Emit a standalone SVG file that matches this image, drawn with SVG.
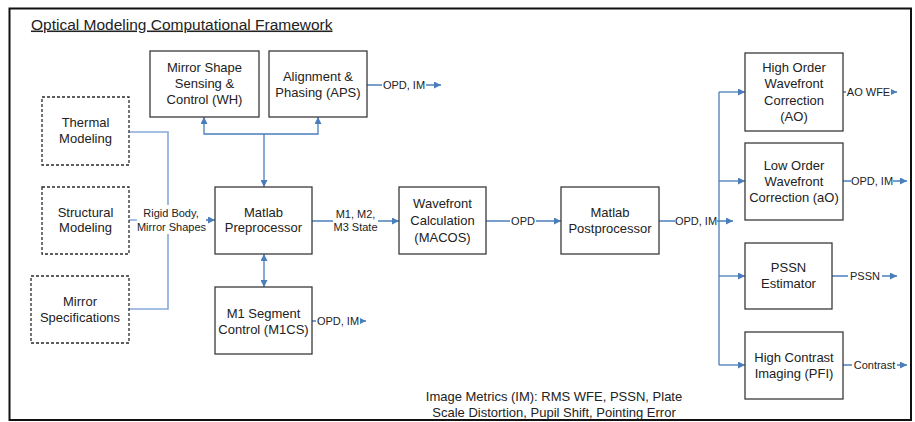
<svg xmlns="http://www.w3.org/2000/svg" width="915" height="422" viewBox="0 0 915 422">
<defs>
<marker id="ah" viewBox="0 0 7 7" refX="7" refY="3.5" markerWidth="7" markerHeight="7" markerUnits="userSpaceOnUse" orient="auto-start-reverse">
<path d="M0,0 L7,3.5 L0,7 z" fill="#4a7ebb"/>
</marker>
<style>
.box{fill:#fff;stroke:#3a3a3a;stroke-width:1.3}
.dash{fill:#fff;stroke:#2a2a2a;stroke-width:1.3;stroke-dasharray:3 2}
.t{font-family:"Liberation Sans",Arial,sans-serif;font-size:13px;fill:#222;text-anchor:middle}
.l{font-family:"Liberation Sans",Arial,sans-serif;font-size:11px;fill:#222;text-anchor:middle}
.c{fill:none;stroke:#4a7ebb;stroke-width:1.3}
.lt{fill:none;stroke:#86a9dc;stroke-width:1.6}
.a{fill:none;stroke:#4a7ebb;stroke-width:1.3;marker-end:url(#ah)}
.bg{fill:#fff}
</style>
</defs>
<rect x="0" y="0" width="915" height="422" fill="#fff"/>
<rect x="9.5" y="8.5" width="901.5" height="411.5" fill="none" stroke="#111" stroke-width="2"/>
<text x="31" y="29.5" font-family="'Liberation Sans',Arial,sans-serif" font-size="15.5" fill="#222" text-decoration="underline">Optical Modeling Computational Framework</text>

<g id="connectors">
<polyline class="lt" points="129,132 168,132 168,309 129,309"/>
<line class="lt" x1="129" y1="220" x2="209" y2="220"/>
<line class="a" x1="205" y1="220" x2="215" y2="220"/>
<rect class="bg" x="137" y="205" width="69" height="29"/>
<text class="l" x="171" y="217">Rigid Body,</text>
<text class="l" x="171.5" y="231">Mirror Shapes</text>

<line class="a" x1="264" y1="134" x2="264" y2="187"/>
<polyline class="a" points="264,134 204,134 204,117"/>
<polyline class="a" points="264,134 318,134 318,117"/>
<line class="a" x1="264" y1="254" x2="264" y2="287" marker-start="url(#ah)"/>

<line class="a" x1="312" y1="221" x2="399" y2="221"/>
<rect class="bg" x="333" y="206" width="45" height="28"/>
<text class="l" x="355.5" y="217.5">M1, M2,</text>
<text class="l" x="355.5" y="231">M3 State</text>

<line class="a" x1="486" y1="221" x2="561" y2="221"/>
<rect class="bg" x="510" y="214" width="26" height="14"/>
<text class="l" x="523" y="225">OPD</text>

<line class="a" x1="659" y1="221" x2="733" y2="221"/>
<rect class="bg" x="675" y="214" width="42" height="14"/>
<text class="l" x="696" y="225">OPD, IM</text>

<line class="c" x1="719" y1="92" x2="719" y2="365"/>
<line class="a" x1="719" y1="92" x2="745" y2="92"/>
<line class="a" x1="719" y1="181" x2="745" y2="181"/>
<line class="a" x1="719" y1="276" x2="745" y2="276"/>
<line class="a" x1="719" y1="365" x2="745" y2="365"/>

<line class="a" x1="367" y1="85" x2="441" y2="85"/>
<rect class="bg" x="382" y="78" width="44" height="14"/>
<text class="l" x="404" y="89">OPD, IM</text>

<line class="a" x1="312" y1="321" x2="366" y2="321"/>
<rect class="bg" x="316" y="314" width="44" height="14"/>
<text class="l" x="338" y="325">OPD, IM</text>

<line class="a" x1="843" y1="92" x2="897" y2="92"/>
<rect class="bg" x="846" y="85" width="45" height="14"/>
<text class="l" x="868.5" y="96">AO WFE</text>

<line class="a" x1="843" y1="181" x2="907" y2="181"/>
<rect class="bg" x="851" y="174" width="42" height="14"/>
<text class="l" x="872" y="185">OPD, IM</text>

<line class="a" x1="832" y1="276" x2="897" y2="276"/>
<rect class="bg" x="848" y="269" width="34" height="14"/>
<text class="l" x="865" y="280">PSSN</text>

<line class="a" x1="843" y1="365" x2="907" y2="365"/>
<rect class="bg" x="852" y="358" width="45" height="14"/>
<text class="l" x="874.5" y="369">Contrast</text>
</g>

<g id="wh"><rect class="box" x="150" y="51" width="109" height="66"/>
<text class="t" x="204.5" y="72">Mirror Shape</text><text class="t" x="204.5" y="88">Sensing &amp;</text><text class="t" x="204.5" y="104">Control (WH)</text></g>
<g id="aps"><rect class="box" x="269" y="51" width="98" height="66"/>
<text class="t" x="318" y="80.5">Alignment &amp;</text><text class="t" x="318" y="96.5">Phasing (APS)</text></g>
<g id="thermal"><rect class="dash" x="42" y="97" width="87" height="68"/>
<text class="t" x="85.5" y="126.5">Thermal</text><text class="t" x="85.5" y="142.5">Modeling</text></g>
<g id="structural"><rect class="dash" x="42" y="187" width="87" height="67"/>
<text class="t" x="85.5" y="216.5">Structural</text><text class="t" x="85.5" y="231.5">Modeling</text></g>
<g id="mirrorspec"><rect class="dash" x="31" y="276" width="98" height="67"/>
<text class="t" x="80" y="305.5">Mirror</text><text class="t" x="80" y="321.5">Specifications</text></g>
<g id="pre"><rect class="box" x="215" y="187" width="97" height="67"/>
<text class="t" x="263.5" y="216.5">Matlab</text><text class="t" x="263.5" y="232">Preprocessor</text></g>
<g id="m1cs"><rect class="box" x="215" y="287" width="97" height="67"/>
<text class="t" x="263.5" y="317.5">M1 Segment</text><text class="t" x="263.5" y="334">Control (M1CS)</text></g>
<g id="macos"><rect class="box" x="399" y="187" width="87" height="67"/>
<text class="t" x="442.5" y="207.5">Wavefront</text><text class="t" x="442.5" y="224.5">Calculation</text><text class="t" x="442.5" y="241.5">(MACOS)</text></g>
<g id="post"><rect class="box" x="561" y="187" width="98" height="67"/>
<text class="t" x="610" y="216.5">Matlab</text><text class="t" x="610" y="232.5">Postprocessor</text></g>
<g id="ao"><rect class="box" x="745" y="53" width="98" height="78"/>
<text class="t" x="794" y="71.5">High Order</text><text class="t" x="794" y="88">Wavefront</text><text class="t" x="794" y="104.5">Correction</text><text class="t" x="794" y="121">(AO)</text></g>
<g id="lo"><rect class="box" x="745" y="143" width="98" height="77"/>
<text class="t" x="794" y="169.5">Low Order</text><text class="t" x="794" y="185.5">Wavefront</text><text class="t" x="794" y="201.5">Correction (aO)</text></g>
<g id="pssn"><rect class="box" x="745" y="243" width="87" height="66"/>
<text class="t" x="788.5" y="271.5">PSSN</text><text class="t" x="788.5" y="287.5">Estimator</text></g>
<g id="pfi"><rect class="box" x="745" y="332" width="98" height="67"/>
<text class="t" x="794" y="361.5">High Contrast</text><text class="t" x="794" y="377.5">Imaging (PFI)</text></g>
<g id="note">
<text class="t" x="554" y="400.5">Image Metrics (IM): RMS WFE, PSSN, Plate</text>
<text class="t" x="554" y="416.5">Scale Distortion, Pupil Shift, Pointing Error</text></g>
</svg>
